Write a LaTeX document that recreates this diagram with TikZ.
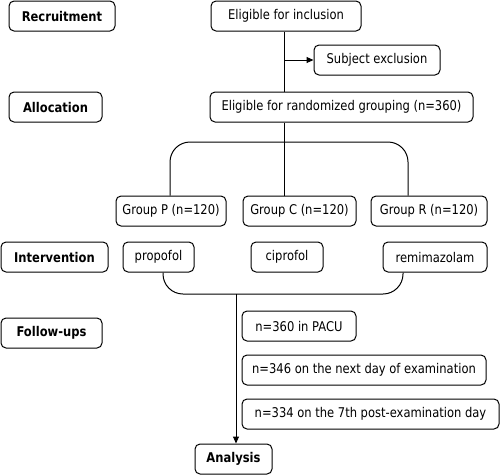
\documentclass[tikz,border=0pt]{standalone}
\usepackage{fontspec}
\setmainfont{DejaVu Sans}[FakeStretch=0.86]
\usetikzlibrary{arrows.meta}
\begin{document}
\begin{tikzpicture}[x=1pt,y=-1pt,
  box/.style={draw, line width=1pt, rounded corners=5pt, minimum height=30pt, inner sep=0pt, font=\fontsize{13.4}{15}\selectfont},
  lbl/.style={box, font=\fontsize{13.4}{15}\selectfont\bfseries},
  conn/.style={line width=1pt},
  arr/.style={conn, -{Triangle[length=7pt,width=6pt]}}]
\useasboundingbox (0,0) rectangle (500,475);
% left labels
\node[lbl, minimum width=106pt] (rec) at (62,16) {Recruitment};
\node[lbl, minimum width=93pt] (alo) at (55.5,107) {Allocation};
\node[lbl, minimum width=107pt] (int) at (54.5,257) {Intervention};
\node[lbl, minimum width=101pt] (fol) at (51.5,333) {Follow-ups};
\node[lbl, minimum width=77pt] (ana) at (233.5,459) {Analysis};
% main boxes
\node[box, minimum width=150pt] (incl) at (286,16) {Eligible for inclusion};
\node[box, minimum width=126pt] (excl) at (377,60) {Subject exclusion};
\node[box, minimum width=263pt] (grp) at (341.5,107) {Eligible for randomized grouping (n=360)};
\node[box, minimum width=110pt] (gP) at (171,211) {Group P (n=120)};
\node[box, minimum width=113pt] (gC) at (299.5,211) {Group C (n=120)};
\node[box, minimum width=116pt] (gR) at (429,211) {Group R (n=120)};
\node[box, minimum width=71pt] (dP) at (158.5,257) {propofol};
\node[box, minimum width=72pt] (dC) at (287,257) {ciprofol};
\node[box, minimum width=104pt] (dR) at (435,257) {remimazolam};
\node[box, minimum width=114pt] (f1) at (299,326) {n=360 in PACU};
\node[box, minimum width=244pt] (f2) at (364,370) {n=346 on the next day of examination};
\node[box, minimum width=257pt] (f3) at (370.5,414) {n=334 on the 7th post-examination day};
% connectors
\coordinate (a) at (284,0);
\draw[conn] (a |- incl.south) -- (a |- grp.north);
\draw[arr] (a |- excl.west) -- (excl.west);
\coordinate (t) at (284,142);
\coordinate (pl) at (170,0);
\coordinate (pr) at (408,0);
\draw[conn] (a |- grp.south) -- (a |- gC.north);
\draw[conn, rounded corners=20pt] (pl |- gP.north) |- (t) -| (pr |- gR.north);
\coordinate (bl) at (163,0);
\coordinate (br) at (403,0);
\coordinate (b) at (236,294);
\draw[conn, rounded corners=20pt] (bl |- dP.south) |- (b) -| (br |- dR.south);
\draw[arr] (b) -- (b |- ana.north);
\end{tikzpicture}
\end{document}
